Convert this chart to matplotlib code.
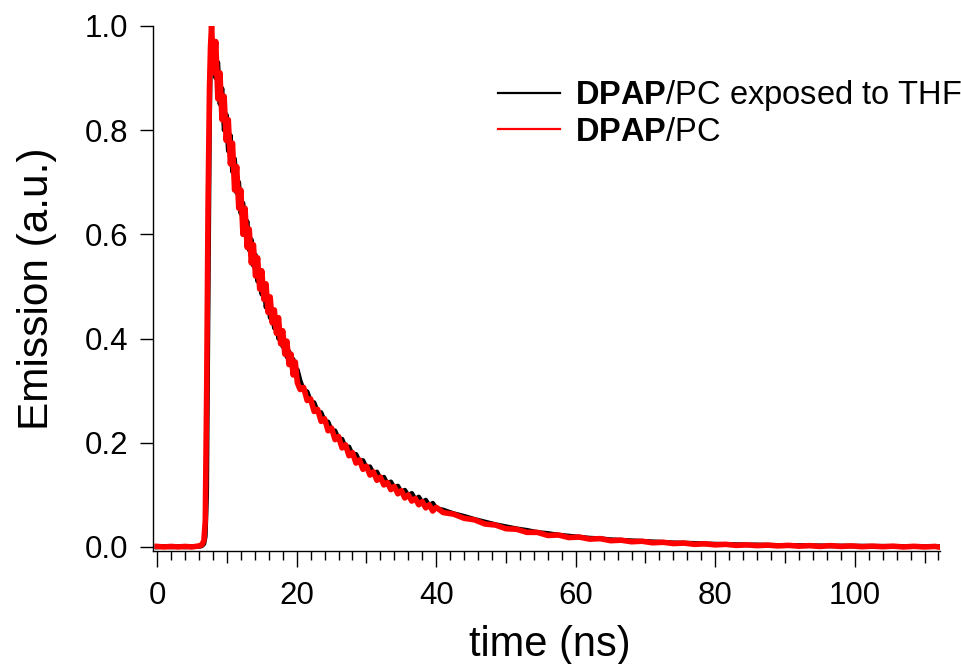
import matplotlib
matplotlib.use('Agg')
import matplotlib.pyplot as plt
from matplotlib.lines import Line2D
from matplotlib.ticker import FormatStrFormatter

plt.rcParams['font.family'] = ['Liberation Sans', 'DejaVu Sans']
plt.rcParams['mathtext.fontset'] = 'custom'
plt.rcParams['mathtext.rm'] = 'Liberation Sans'
plt.rcParams['mathtext.bf'] = 'Liberation Sans:bold'

# time axis (ns)
t_ns = [0, 1, 2, 3, 4, 5, 6, 6.4, 6.7, 6.9, 7.1, 7.3, 7.5, 7.65,
        7.8, 8.1, 8.4, 8.7, 9.0, 9.3, 9.6, 9.9, 10.2, 10.5,
        10.8, 11.1, 11.4, 11.7, 12.0, 12.3, 12.6, 12.9, 13.2, 13.5,
        13.8, 14.1, 14.4, 14.7, 15.0, 15.3, 15.6, 15.9, 16.2, 16.5,
        16.8, 17.1, 17.4, 17.7, 18.0, 18.3, 18.6, 18.9, 19.2, 19.5,
        19.8, 20.1,
        20.5, 21.0, 21.5, 22.0, 22.5, 23.0, 23.5, 24.0, 24.5, 25.0,
        25.5, 26.0, 26.5, 27.0, 27.5, 28.0, 28.5, 29.0, 29.5, 30.0,
        30.5, 31.0, 31.5, 32.0, 32.5, 33.0, 33.5, 34.0, 34.5, 35.0,
        35.5, 36.0, 36.5, 37.0, 37.5, 38.0, 38.5, 39.0, 39.5, 40.0,
        41, 42.5, 44, 45.5, 47, 48.5, 50, 51.5, 53, 54.5,
        56, 57.5, 59, 60.5, 62, 63.5, 65, 66.5, 68, 69.5,
        71, 72.5, 74, 75.5, 77, 78.5, 80, 81.5, 83, 84.5,
        86, 87.5, 89, 90.5, 92, 93.5, 95, 96.5, 98, 99.5,
        101, 102.5, 104, 105.5, 107, 108.5, 110, 111.5, 112]

# DPAP/PC (red)
em_pc = [0.001, 0.000, 0.001, 0.000, 0.001, 0.000, 0.002, 0.004, 0.012, 0.05, 0.30, 0.66, 0.88, 0.96,
         1.00, 0.91, 0.97, 0.86, 0.91, 0.82, 0.865, 0.78, 0.82, 0.735,
         0.775, 0.685, 0.73, 0.65, 0.685, 0.60, 0.65, 0.575, 0.61, 0.545,
         0.58, 0.52, 0.555, 0.495, 0.53, 0.475, 0.505, 0.45, 0.48, 0.43,
         0.455, 0.41, 0.44, 0.39, 0.415, 0.37, 0.395, 0.35, 0.37, 0.33,
         0.355, 0.315,
         0.302, 0.306, 0.281, 0.284, 0.260, 0.264, 0.241, 0.246, 0.223, 0.228,
         0.206, 0.212, 0.19, 0.196, 0.175, 0.181, 0.161, 0.167, 0.149, 0.155,
         0.138, 0.144, 0.128, 0.134, 0.119, 0.124, 0.110, 0.116, 0.102, 0.108,
         0.094, 0.1, 0.088, 0.093, 0.081, 0.087, 0.075, 0.081, 0.069, 0.076,
         0.066, 0.063, 0.055, 0.052, 0.044, 0.042, 0.035, 0.034, 0.028, 0.028,
         0.022, 0.023, 0.018, 0.019, 0.015, 0.016, 0.012, 0.013, 0.010, 0.011,
         0.008, 0.009, 0.0065, 0.0075, 0.005, 0.006, 0.004, 0.005, 0.003, 0.004,
         0.0025, 0.0035, 0.002, 0.003, 0.0015, 0.0025, 0.001, 0.0025, 0.001, 0.002,
         0.0005, 0.0015, 0.0005, 0.0015, 0.0, 0.0012, 0.0, 0.001, 0.0]

# DPAP/PC exposed to THF (black)
em_thf = [0.000, 0.001, 0.000, 0.001, 0.000, 0.001, 0.001, 0.002, 0.006, 0.02, 0.10, 0.45, 0.80, 0.95,
          0.97, 0.97, 0.90, 0.93, 0.85, 0.88, 0.80, 0.83, 0.76, 0.79,
          0.72, 0.745, 0.68, 0.70, 0.64, 0.66, 0.605, 0.625, 0.57, 0.59,
          0.54, 0.56, 0.51, 0.53, 0.485, 0.505, 0.46, 0.48, 0.44, 0.455,
          0.42, 0.435, 0.40, 0.415, 0.385, 0.395, 0.365, 0.375, 0.35, 0.36,
          0.335, 0.34,
          0.319, 0.301, 0.298, 0.279, 0.277, 0.259, 0.258, 0.241, 0.240, 0.223,
          0.223, 0.207, 0.207, 0.191, 0.192, 0.177, 0.178, 0.164, 0.166, 0.152,
          0.154, 0.141, 0.144, 0.131, 0.134, 0.121, 0.125, 0.113, 0.117, 0.105,
          0.109, 0.098, 0.103, 0.091, 0.096, 0.085, 0.09, 0.079, 0.084, 0.074,
          0.071, 0.064, 0.059, 0.053, 0.048, 0.043, 0.039, 0.035, 0.032, 0.028,
          0.026, 0.023, 0.021, 0.019, 0.017, 0.016, 0.014, 0.013, 0.012, 0.011,
          0.010, 0.009, 0.008, 0.0075, 0.007, 0.006, 0.0055, 0.005, 0.0045, 0.004,
          0.004, 0.0035, 0.003, 0.003, 0.0028, 0.0025, 0.0023, 0.002, 0.002, 0.0018,
          0.0016, 0.0015, 0.0013, 0.0012, 0.001, 0.001, 0.0008, 0.0006, 0.0005]

labels = [r'$\mathbf{DPAP}$/PC exposed to THF', r'$\mathbf{DPAP}$/PC']
x_major = [0, 10, 20, 30, 40, 50, 60, 70, 80, 90, 100, 110]
x_minor = [v for v in range(0, 113, 2) if v % 10 != 0]
y_major = [0.0, 0.2, 0.4, 0.6, 0.8, 1.0]

fig = plt.figure(figsize=(9.62, 6.64), dpi=100)
ax = fig.add_axes([0.159, 0.170, 0.818, 0.791])

ax.plot(t_ns, em_thf, color='black', lw=3.4)
ax.plot(t_ns, em_pc, color='#ff0000', lw=4.0)

ax.set_xlim(-0.6, 112.2)
ax.set_ylim(-0.008, 1.0)

for s in ['top', 'right']:
    ax.spines[s].set_visible(False)
for s in ['left', 'bottom']:
    ax.spines[s].set_linewidth(1.0)

ax.set_xticks(x_major)
ax.set_xticklabels([str(v) if v % 20 == 0 else '' for v in x_major])
ax.set_xticks(x_minor, minor=True)
ax.set_yticks(y_major)
ax.yaxis.set_major_formatter(FormatStrFormatter('%.1f'))

ax.tick_params(axis='x', which='major', direction='out', length=11.5, width=1.0,
               pad=10, labelsize=22.5)
ax.tick_params(axis='x', which='minor', direction='out', length=6.5, width=1.0)
ax.tick_params(axis='y', which='major', direction='out', length=9.4, width=1.0,
               pad=8.4, labelsize=22.5)
for tick, v in zip(ax.xaxis.get_major_ticks(), x_major):
    if v % 20 != 0:
        tick.tick1line.set_markersize(8.6)

ax.set_xlabel('time (ns)', fontsize=30)
ax.set_ylabel('Emission (a.u.)', fontsize=30.5)
ax.xaxis.set_label_coords(0.504, -0.141)
ax.yaxis.set_label_coords(-0.122, 0.5)

handles = [Line2D([], [], color='black', lw=1.6),
           Line2D([], [], color='#ff0000', lw=1.6)]
ax.legend(handles, labels, loc='upper left', bbox_to_anchor=(498 / 962, 1 - 78 / 664),
          bbox_transform=fig.transFigure, frameon=False, fontsize=23.5,
          handlelength=1.9, handletextpad=0.45, labelspacing=0.12,
          borderpad=0, borderaxespad=0)

fig.savefig('out.png', dpi=100)
